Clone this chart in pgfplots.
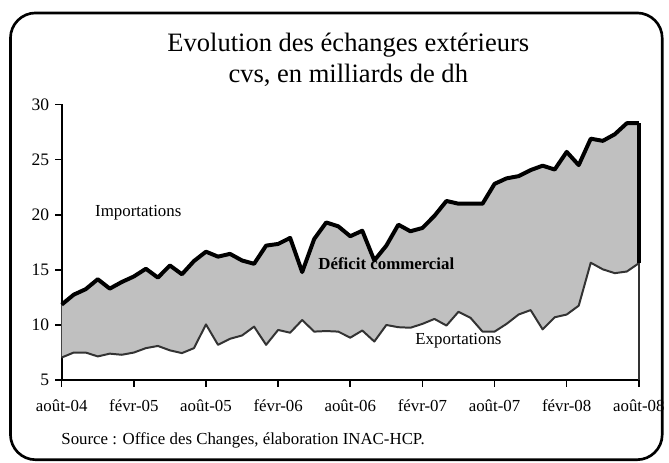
\documentclass[border=0pt]{standalone}
\usepackage{fontspec}
\setmainfont{Liberation Serif}
\usepackage{pgfplots}
\usepackage{pgfplotstable}
\pgfplotsset{compat=1.18}
\usepgfplotslibrary{fillbetween}
\definecolor{fillgray}{RGB}{192,192,192}
\definecolor{expline}{RGB}{51,51,51}

\pgfplotstableread{
m imp ex
0 11.85 7.05
1 12.75 7.50
2 13.25 7.50
3 14.15 7.15
4 13.30 7.40
5 13.90 7.30
6 14.40 7.50
7 15.10 7.90
8 14.30 8.10
9 15.40 7.70
10 14.60 7.45
11 15.80 7.90
12 16.65 10.05
13 16.20 8.20
14 16.45 8.75
15 15.85 9.05
16 15.55 9.85
17 17.20 8.20
18 17.35 9.55
19 17.90 9.30
20 14.80 10.45
21 17.80 9.40
22 19.30 9.45
23 18.95 9.40
24 18.05 8.85
25 18.55 9.50
26 15.85 8.50
27 17.20 10.00
28 19.10 9.80
29 18.50 9.75
30 18.80 10.10
31 19.90 10.55
32 21.25 9.95
33 21.00 11.20
34 21.00 10.65
35 21.00 9.40
36 22.80 9.40
37 23.30 10.10
38 23.50 10.95
39 24.05 11.35
40 24.45 9.60
41 24.10 10.70
42 25.70 10.95
43 24.50 11.75
44 26.90 15.65
45 26.70 15.05
46 27.30 14.70
47 28.30 14.85
48 28.30 15.60
}\tradedata

\begin{document}
\begin{tikzpicture}
\path (0,0) rectangle (501.75pt,348.75pt);
\draw[line width=2pt, rounded corners=19pt] (7.875pt,2.25pt) rectangle (499.125pt,339pt);
\node[font=\fontsize{20}{23.25}\selectfont, align=center] at (262.5pt,303.4pt) {Evolution des échanges extérieurs\\cvs, en milliards de dh};
\node[anchor=west, font=\fontsize{12.7}{15}\selectfont] at (42.75pt,17pt) {Source : Office des Changes, élaboration INAC-HCP.};
\begin{axis}[
  at={(46.5pt,62.25pt)}, anchor=south west,
  scale only axis, width=435pt, height=207.75pt,
  xmin=0, xmax=48, ymin=5, ymax=30,
  clip=false,
  axis x line=bottom, axis y line=left,
  axis line style={-, line width=1.6pt, black},
  xtick={0,6,...,48},
  xticklabels={août-04,févr-05,août-05,févr-06,août-06,févr-07,août-07,févr-08,août-08},
  ytick={5,10,...,30},
  tick align=outside, major tick length=5pt,
  tick style={black, line width=1.2pt},
  ticklabel style={font=\fontsize{12.7}{15}\selectfont},
  xticklabel style={yshift=-6.5pt},
  yticklabel style={font=\fontsize{13.2}{15}\selectfont, xshift=-1pt},
  /pgf/number format/assume math mode=true,
]
\addplot[draw=none, name path=imp, forget plot] table[x=m,y=imp]{\tradedata};
\addplot[draw=none, name path=ex, forget plot] table[x=m,y=ex]{\tradedata};
\addplot[fillgray, draw=none] fill between[of=imp and ex];
\addplot[expline, line width=1.5pt, line join=round] table[x=m,y=ex]{\tradedata};
\addplot[expline, line width=1.5pt] coordinates {(48,15.6) (48,5)};
\addplot[black, line width=3pt, line join=round] table[x=m,y=imp]{\tradedata};
\addplot[black, line width=3pt] coordinates {(48,28.3) (48,15.6)};
\node[font=\fontsize{12.7}{15}\selectfont] at (axis cs:6.37,20.2) {Importations};
\node[font=\fontsize{12.7}{15}\selectfont\bfseries] at (axis cs:27.0,15.55) {Déficit commercial};
\node[font=\fontsize{12.7}{15}\selectfont] at (axis cs:33.0,8.6) {Exportations};
\end{axis}
\end{tikzpicture}
\end{document}
